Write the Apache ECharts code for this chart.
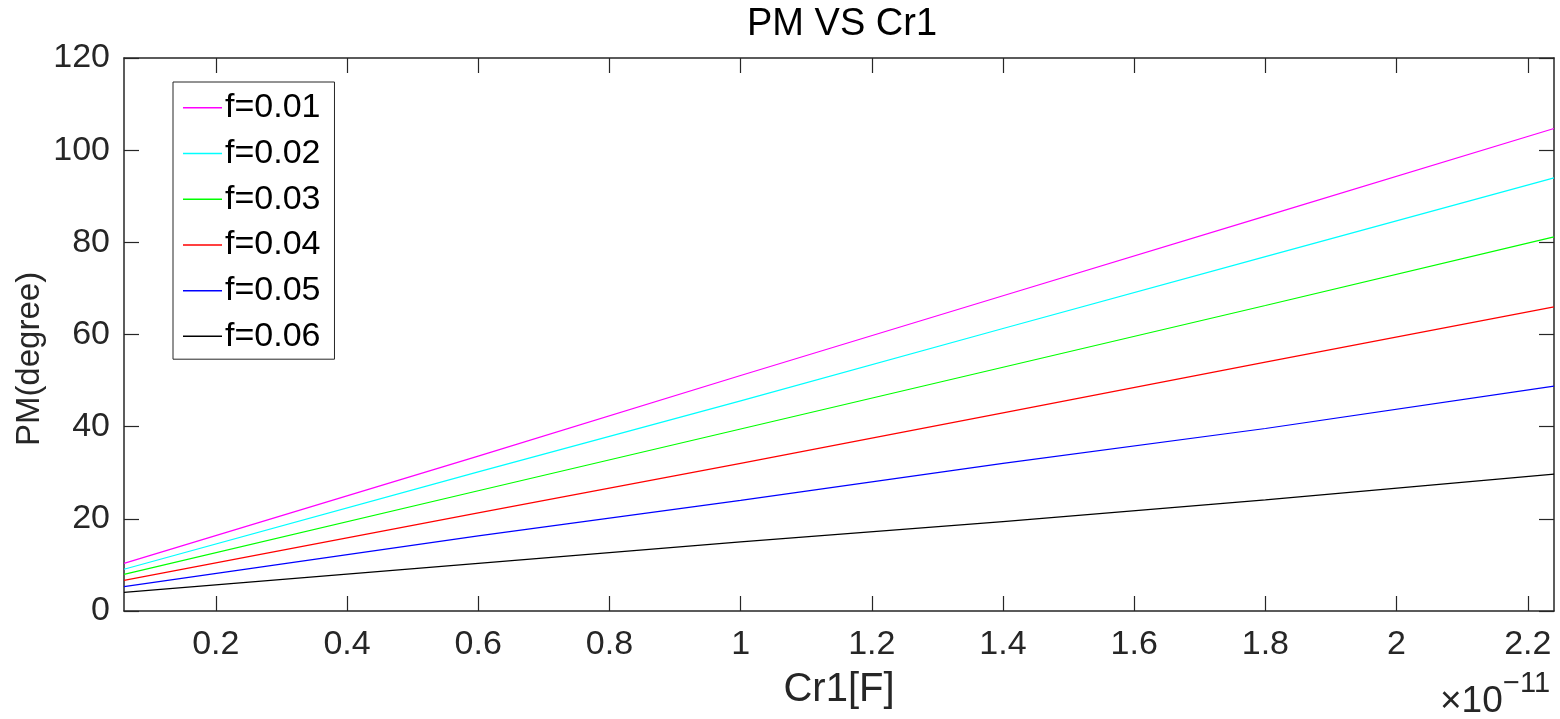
<!DOCTYPE html>
<html>
<head>
<meta charset="utf-8">
<script src="https://cdn.jsdelivr.net/npm/echarts@6/dist/echarts.min.js"></script>
<style>html,body{margin:0;padding:0;background:#fff;}#c{width:1560px;height:719px;}</style>
</head>
<body>
<div id="c"></div>
<script>
const xValues = [0.06, 0.6, 1.0, 1.4, 1.8, 2.24];
const seriesNames = ['f=0.01', 'f=0.02', 'f=0.03', 'f=0.04', 'f=0.05', 'f=0.06'];
const f001 = [10.35, 33.6, 51.1, 68.4, 85.7, 104.7];
const f002 = [9.05, 30.2, 45.6, 61.3, 76.9, 94.0];
const f003 = [7.96, 26.1, 39.5, 52.9, 66.3, 81.2];
const f004 = [6.66, 21.3, 32.05, 43.0, 54.0, 66.0];
const f005 = [5.28, 16.3, 24.0, 32.05, 39.6, 48.8];
const f006 = [4.05, 10.35, 15.0, 19.4, 24.1, 29.7];
const xTicks = [0.2, 0.4, 0.6, 0.8, 1, 1.2, 1.4, 1.6, 1.8, 2, 2.2];
const yTicks = [0, 20, 40, 60, 80, 100, 120];
const colors = ['#ff00ff', '#00ffff', '#00ff00', '#ff0000', '#0000ff', '#000000'];
const allData = [f001, f002, f003, f004, f005, f006];

const font = "'Liberation Sans', Arial, sans-serif";
const axisColor = '#262626';

const chart = echarts.init(document.getElementById('c'));
const series = allData.map((d, i) => ({
  name: seriesNames[i],
  type: 'line',
  data: d.map((v, j) => [xValues[j], v]),
  symbol: 'none',
  smooth: false,
  lineStyle: { color: colors[i], width: 1.2 },
  itemStyle: { color: colors[i] },
  xAxisIndex: 0,
  yAxisIndex: 0,
  z: 3
}));

const xBase = {
  type: 'value', min: 0.06, max: 2.24,
  axisLine: { show: true, onZero: false, lineStyle: { color: axisColor, width: 1.5 } },
  axisTick: { show: true, inside: true, length: 15, customValues: xTicks, lineStyle: { color: axisColor, width: 1.2 } },
  splitLine: { show: false }
};
const yBase = {
  type: 'value', min: 0, max: 120, interval: 20,
  axisLine: { show: true, onZero: false, lineStyle: { color: axisColor, width: 1.5 } },
  axisTick: { show: true, inside: true, length: 15, customValues: yTicks, lineStyle: { color: axisColor, width: 1.2 } },
  splitLine: { show: false }
};

chart.setOption({
  animation: false,
  backgroundColor: '#ffffff',
  title: {
    text: 'PM VS Cr1', left: 742, top: 1,
    textStyle: { fontFamily: font, fontSize: 38, fontWeight: 'normal', color: '#000' }
  },
  grid: { left: 124, right: 6, top: 58, bottom: 108, containLabel: false },
  legend: {
    orient: 'vertical', left: 173, top: 82,
    data: seriesNames,
    icon: 'rect', itemWidth: 39, itemHeight: 1.5, itemGap: 0,
    padding: [3, 14, 0, 10],
    borderColor: axisColor, borderWidth: 1, backgroundColor: '#fff',
    textStyle: { fontFamily: font, fontSize: 34, color: '#000', lineHeight: 45.7, padding: [0, 0, 0, -2] }
  },
  xAxis: [
    Object.assign({}, xBase, {
      position: 'bottom',
      name: 'Cr1[F]', nameLocation: 'middle', nameGap: 59,
      nameTextStyle: { fontFamily: font, fontSize: 40, color: axisColor },
      axisLabel: { show: true, customValues: xTicks, margin: 17, fontFamily: font, fontSize: 34, color: axisColor, formatter: v => String(+v.toFixed(2)) }
    }),
    Object.assign({}, xBase, { position: 'top', axisLabel: { show: false } })
  ],
  yAxis: [
    Object.assign({}, yBase, {
      position: 'left',
      axisLabel: { show: true, margin: 14, fontFamily: font, fontSize: 34, color: axisColor }
    }),
    Object.assign({}, yBase, { position: 'right', axisLabel: { show: false } })
  ],
  graphic: [
    { type: 'text', x: 30, y: 359, rotation: Math.PI / 2, style: { text: 'PM(degree)', align: 'center', verticalAlign: 'middle', fontFamily: font, fontSize: 33, fill: axisColor } },
    { type: 'text', left: 1440, top: 683, style: { text: '×10', fontFamily: font, fontSize: 37, fill: axisColor } },
    { type: 'text', left: 1503, top: 669, style: { text: '−11', fontFamily: font, fontSize: 29, fill: axisColor } }
  ],
  series: series
});
</script>
</body>
</html>
